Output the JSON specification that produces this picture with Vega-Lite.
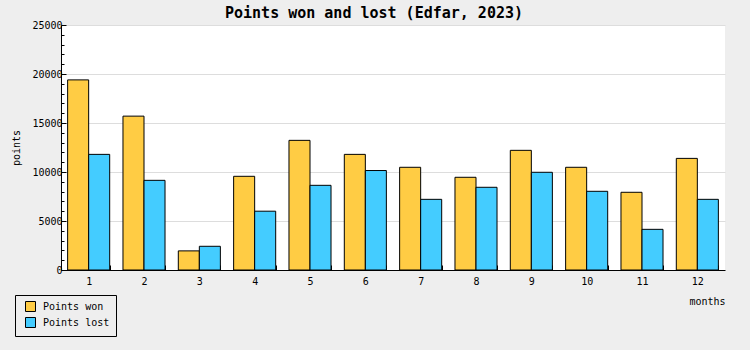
{
  "$schema": "https://vega.github.io/schema/vega-lite/v6.json",
  "width": 664,
  "height": 245,
  "autosize": {"type": "none"},
  "padding": {"left": 61, "top": 25, "right": 25, "bottom": 80},
  "background": "#eeeeee",
  "title": {
    "text": "Points won and lost (Edfar, 2023)",
    "font": "DejaVu Sans Mono",
    "fontSize": 15,
    "fontWeight": "bold",
    "color": "#000000",
    "anchor": "middle",
    "dx": -19,
    "dy": 7,
    "offset": 6
  },
  "data": {
    "values": [
      {"month": 1, "series": "Points won", "value": 19400},
      {"month": 1, "series": "Points lost", "value": 11800},
      {"month": 2, "series": "Points won", "value": 15700},
      {"month": 2, "series": "Points lost", "value": 9150},
      {"month": 3, "series": "Points won", "value": 1950},
      {"month": 3, "series": "Points lost", "value": 2420},
      {"month": 4, "series": "Points won", "value": 9560},
      {"month": 4, "series": "Points lost", "value": 6000},
      {"month": 5, "series": "Points won", "value": 13230},
      {"month": 5, "series": "Points lost", "value": 8640},
      {"month": 6, "series": "Points won", "value": 11800},
      {"month": 6, "series": "Points lost", "value": 10150},
      {"month": 7, "series": "Points won", "value": 10480},
      {"month": 7, "series": "Points lost", "value": 7210},
      {"month": 8, "series": "Points won", "value": 9460},
      {"month": 8, "series": "Points lost", "value": 8440},
      {"month": 9, "series": "Points won", "value": 12210},
      {"month": 9, "series": "Points lost", "value": 9970},
      {"month": 10, "series": "Points won", "value": 10480},
      {"month": 10, "series": "Points lost", "value": 8030},
      {"month": 11, "series": "Points won", "value": 7930},
      {"month": 11, "series": "Points lost", "value": 4150},
      {"month": 12, "series": "Points won", "value": 11390},
      {"month": 12, "series": "Points lost", "value": 7210}
    ]
  },
  "mark": {"type": "bar", "stroke": "#000000", "strokeWidth": 1},
  "encoding": {
    "x": {
      "field": "month",
      "type": "ordinal",
      "scale": {"paddingInner": 0.24, "paddingOuter": 0.12},
      "axis": {
        "title": "months",
        "titleAnchor": "end",
        "titleFont": "DejaVu Sans Mono",
        "titleFontSize": 10,
        "titleFontWeight": "normal",
        "titleColor": "#000000",
        "titlePadding": 10,
        "labelAngle": 0,
        "labelFont": "DejaVu Sans Mono",
        "labelFontSize": 10,
        "labelColor": "#000000",
        "labelPadding": 11,
        "tickBand": "extent",
        "tickSize": -5,
        "tickColor": "#000000",
        "domainColor": "#000000",
        "grid": false
      }
    },
    "xOffset": {
      "field": "series",
      "sort": ["Points won", "Points lost"],
      "scale": {"paddingInner": 0, "paddingOuter": 0}
    },
    "y": {
      "field": "value",
      "type": "quantitative",
      "scale": {"domain": [0, 25000], "nice": false},
      "axis": {
        "title": "points",
        "titleFont": "DejaVu Sans Mono",
        "titleFontSize": 10,
        "titleFontWeight": "normal",
        "titleColor": "#000000",
        "titlePadding": 10,
        "values": [0,1000,2000,3000,4000,5000,6000,7000,8000,9000,10000,11000,12000,13000,14000,15000,16000,17000,18000,19000,20000,21000,22000,23000,24000,25000],
        "format": "d",
        "labelExpr": "datum.value % 5000 === 0 ? datum.label : ''",
        "labelOverlap": false,
        "labelFont": "DejaVu Sans Mono",
        "labelFontSize": 10,
        "labelColor": "#000000",
        "labelPadding": 4,
        "tickSize": {"condition": {"test": "datum.value % 5000 === 0", "value": -5}, "value": -3},
        "tickColor": "#000000",
        "domainColor": "#000000",
        "grid": true,
        "gridColor": "#dddddd",
        "gridOpacity": {"condition": {"test": "datum.value % 5000 === 0 && datum.value > 0", "value": 1}, "value": 0}
      }
    },
    "color": {
      "field": "series",
      "type": "nominal",
      "scale": {"domain": ["Points won", "Points lost"], "range": ["#ffcc44", "#44ccff"]},
      "legend": {
        "title": null,
        "orient": "none",
        "legendX": -46,
        "legendY": 270,
        "direction": "vertical",
        "strokeColor": "#000000",
        "fillColor": "#eeeeee",
        "padding": 6,
        "symbolOffset": 4,
        "symbolType": "square",
        "symbolSize": 100,
        "symbolStrokeColor": "#000000",
        "symbolStrokeWidth": 1,
        "symbolOpacity": 1,
        "labelFont": "DejaVu Sans Mono",
        "labelFontSize": 10,
        "labelColor": "#000000",
        "labelOffset": 7,
        "rowPadding": 1
      }
    }
  },
  "config": {"view": {"fill": "#ffffff", "stroke": null}}
}
